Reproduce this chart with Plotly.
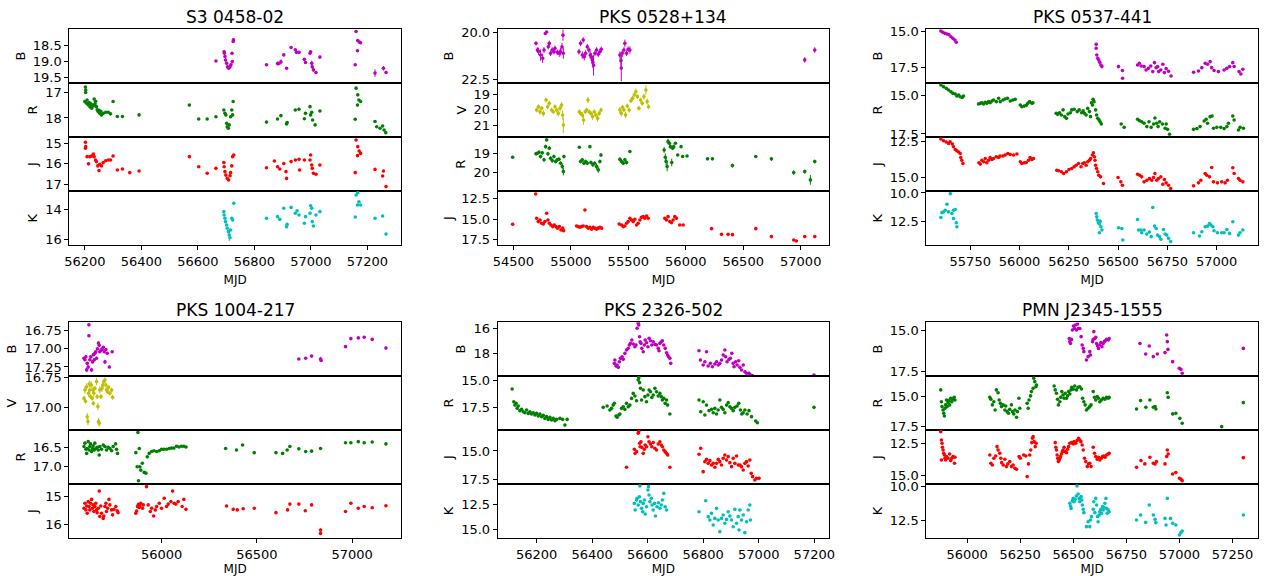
import plotly.graph_objects as go

# ---------------- data: (MJD, magnitude[, error]) ----------------
# S3 0458-02
P1_B = [(56664,18.97,0.03),(56693,18.68,0.04),(56694,18.73,0.04),(56696,18.83,0.05),(56698,18.94,0.05),(56702,19.04,0.05),
        (56705,19.15,0.05),(56709,19.2,0.05),(56714,19.15,0.05),(56717,19.09,0.04),(56721,18.73,0.04),(56722,18.99,0.05),
        (56725,18.36,0.05),(56726,18.31,0.05),(56843,19.09,0.04),(56882,19.05,0.06),(56886,19.05,0.06),(56894,19.0,0.08),
        (56904,18.78,0.04),(56914,19.2,0.04),(56930,18.55,0.03),(56945,18.62,0.04),(56949,18.7,0.03),(56958,18.7,0.03),
        (56977,18.92,0.03),(56981,19.02,0.03),(56997,18.73,0.05),(56999,18.68,0.05),(57003,19.04,0.08),(57005,19.15,0.08),
        (57009,19.25,0.05),(57018,19.33,0.03),(57032,18.85,0.05),(57157,19.09,0.03),(57165,18.65,0.03),(57160,18.05,0.03),
        (57166,18.33,0.03),(57171,18.38,0.03),(57176,18.4,0.03),(57227,19.35,0.12),(57257,19.2,0.07),(57266,19.33,0.05)]
P1_R = [(56202,16.8),(56203,16.91),(56203,17.01),(56200,17.36),(56206,17.43),(56208,17.3),(56212,17.49),(56215,17.4),
        (56218,17.56),(56221,17.45),(56224,17.62),(56227,17.5),(56230,17.53),(56233,17.26),(56236,17.45),(56238,17.35),
        (56241,17.56),(56244,17.68),(56247,17.75),(56250,17.7),(56253,17.82),(56256,17.74),(56259,17.88),(56265,17.82),
        (56274,17.78),(56283,17.78),(56291,17.84),(56300,17.36),(56315,17.94),(56333,17.94),(56392,17.88),(56570,17.5),
        (56603,18.04),(56633,18.04),(56664,17.95),(56692,17.69),(56696,17.82),(56699,17.88),(56702,18.21),(56704,18.34),
        (56708,18.4),(56711,18.27),(56716,17.95),(56720,17.69),(56723,17.88),(56725,17.36),(56843,18.16),(56882,18.04),
        (56894,17.91),(56914,18.23),(56916,18.18),(56945,17.69),(56958,17.66),(56977,18.03),(56981,17.82),(56997,17.56),
        (56999,17.88),(57003,17.78),(57006,18.08),(57015,18.27),(57032,17.73),(57157,18.05),(57165,17.5),(57160,16.84),
        (57166,17.1),(57170,17.3),(57176,17.36),(57227,18.14),(57233,18.34),(57245,18.4),(57254,18.31),(57259,18.47),
        (57265,18.57)]
P1_J = [(56202,14.95),(56203,15.16),(56202,15.24),(56208,15.65),(56213,16.0),(56218,15.65),(56224,15.62),(56230,15.52),
        (56233,15.65),(56238,15.81),(56241,15.89),(56246,16.1),(56250,16.33),(56253,16.02),(56259,16.1),(56265,15.94),
        (56274,15.85),(56283,15.81),(56291,15.81),(56300,15.62),(56315,16.3),(56333,16.25),(56359,16.43),(56392,16.35),
        (56570,15.65),(56603,16.14),(56633,16.46),(56664,16.22),(56692,15.94),(56693,16.14),(56696,16.38),(56699,16.55),
        (56704,16.71),(56709,16.79),(56714,16.58),(56716,16.43),(56720,16.1),(56723,15.65),(56727,15.57),(56843,16.19),
        (56871,15.86),(56882,16.14),(56890,16.25),(56904,15.98),(56912,16.38),(56914,16.71),(56930,15.89),(56945,15.81),
        (56958,15.78),(56960,16.3),(56977,15.81),(56997,15.81),(56999,15.57),(57003,16.06),(57005,16.22),(57009,16.46),
        (57018,16.51),(57032,16.06),(57157,16.43),(57165,15.6),(57160,14.84),(57166,15.16),(57171,15.37),(57176,15.49),
        (57227,16.27),(57254,16.59),(57257,16.35),(57266,17.11)]
P1_K = [(56692,14.15),(56693,14.37),(56696,14.59),(56698,14.81),(56702,15.03),(56704,15.25),(56708,15.47),(56711,15.69,0.4),
        (56714,15.87),(56716,15.36),(56720,14.59),(56723,14.7),(56727,13.6),(56843,14.59),(56882,14.48),(56890,14.66),
        (56904,13.93),(56914,15.14),(56916,14.98),(56930,13.87),(56945,14.26),(56951,14.1),(56958,14.37),(56977,14.92),
        (56981,14.48),(56997,14.26),(56999,13.76),(57003,13.93),(57005,14.81),(57009,15.1),(57018,14.37),(57032,14.15),
        (57157,14.5),(57165,13.71),(57160,13.05),(57166,12.9),(57170,13.5),(57176,13.71),(57227,14.59),(57254,14.44),
        (57266,15.63)]

# PKS 0528+134
P2_B = [(54697,20.57,0.1),(54709,20.93,0.15),(54720,21.0,0.2),(54737,21.2,0.3),(54755,21.37,0.25),(54767,20.93,0.15),
        (54778,20.04,0.05),(54790,19.96,0.05),(54804,20.75,0.15),(54813,20.57,0.15),(54824,21.1,0.15),(54838,20.93,0.15),
        (54853,21.02,0.15),(54862,20.84,0.15),(54882,21.05,0.15),(54899,21.1,0.2),(54911,21.02,0.2),(54923,20.75,0.2),
        (54932,20.13,0.3),(54935,21.1,0.3),(55071,21.02,0.15),(55085,20.57,0.15),(55100,21.2,0.2),(55108,20.39,0.15),
        (55117,21.29,0.2),(55129,21.1,0.15),(55143,20.75,0.15),(55158,20.93,0.15),(55169,21.2,0.2),(55178,21.29,0.2),
        (55187,21.46,0.2),(55192,21.6,0.3),(55198,21.75,0.55),(55210,21.1,0.15),(55224,20.93,0.15),(55239,21.16,0.15),
        (55253,21.02,0.15),(55265,20.89,0.15),(55427,21.2,0.2),(55436,21.5,0.3),(55439,21.9,0.7),(55447,21.1,0.2),
        (55462,20.93,0.15),(55470,20.57,0.2),(55485,21.1,0.15),(55499,20.89,0.15),(55514,20.93,0.2),(57035,21.46,0.15),
        (57122,20.93,0.15)]
P2_V = [(54703,20.03,0.15),(54718,19.82,0.15),(54732,20.14,0.2),(54747,19.92,0.15),(54761,20.25,0.2),(54784,19.39,0.15),
        (54798,19.82,0.15),(54813,19.6,0.15),(54833,20.03,0.15),(54848,20.14,0.15),(54862,19.82,0.15),(54877,20.03,0.15),
        (54891,20.25,0.2),(54906,19.92,0.2),(54920,19.71,0.2),(54929,20.35,0.3),(54935,21.0,0.5),(55074,20.14,0.15),
        (55085,20.25,0.15),(55100,20.35,0.2),(55111,20.68,0.3),(55126,20.14,0.15),(55137,20.03,0.15),(55149,19.39,0.2),
        (55160,20.14,0.15),(55175,20.25,0.15),(55189,20.46,0.2),(55204,20.14,0.15),(55218,20.35,0.15),(55233,20.57,0.2),
        (55247,20.25,0.15),(55262,20.03,0.15),(55427,20.03,0.2),(55439,20.25,0.2),(55450,19.86,0.15),(55462,20.03,0.15),
        (55476,20.35,0.2),(55491,19.77,0.15),(55508,20.03,0.15),(55523,19.43,0.15),(55537,19.28,0.15),(55552,19.06,0.15),
        (55566,18.85,0.2),(55580,19.17,0.15),(55592,19.92,0.15),(55607,19.39,0.15),(55621,19.6,0.15),(55636,19.17,0.2),
        (55653,18.74,0.3),(55664,19.49,0.2),(55676,19.82,0.15)]
P2_R = [(54494,19.21,0.03),(54697,19.03,0.08),(54709,19.0,0.08),(54723,18.95,0.1),(54737,19.17,0.1),(54752,18.98,0.08),
        (54767,19.34,0.1),(54781,18.66,0.1),(54790,18.31,0.05),(54801,19.03,0.1),(54813,18.74,0.1),(54824,19.26,0.1),
        (54838,19.38,0.1),(54853,19.17,0.1),(54868,19.43,0.1),(54882,19.34,0.1),(54897,19.31,0.1),(54911,19.52,0.1),
        (54926,19.69,0.15),(54935,19.95,0.2),(54940,19.17,0.1),(55074,18.69,0.03),(55085,19.43,0.1),(55100,19.34,0.1),
        (55114,19.52,0.1),(55129,19.43,0.1),(55143,19.52,0.1),(55166,18.66,0.03),(55175,19.48,0.1),(55192,19.6,0.1),
        (55207,19.52,0.1),(55224,19.69,0.15),(55239,19.86,0.15),(55253,19.43,0.1),(55262,19.09,0.1),(55427,19.31,0.1),
        (55441,19.43,0.1),(55456,19.52,0.1),(55470,19.34,0.1),(55485,19.48,0.1),(55514,18.91,0.05),(55812,18.83,0.15),
        (55822,19.21,0.2),(55829,19.43,0.2),(55838,19.69,0.25),(55846,18.4,0.15),(55858,18.48,0.1),(55866,18.66,0.1),
        (55878,19.48,0.2),(55886,18.74,0.1),(55895,18.66,0.1),(55910,18.48,0.05),(55930,19.09,0.05),(55959,18.66,0.05),
        (55973,19.17,0.05),(56011,19.14,0.05),(56189,19.29,0.05),(56232,19.29,0.05),(56406,19.64,0.1),(56609,19.17,0.05),
        (56745,19.29,0.1),(56939,20.0,0.12),(57035,19.95,0.1),(57084,20.38,0.25),(57122,19.43,0.1)]
P2_J = [(54494,15.63),(54694,11.93),(54703,14.9),(54717,15.3),(54732,15.1),(54746,15.5),(54761,15.58),(54775,15.3),
        (54790,14.29),(54801,15.1),(54813,15.5),(54827,15.71),(54842,15.91),(54856,15.71),(54871,15.91),(54885,16.1),
        (54900,15.91),(54914,16.32),(54929,16.1),(54937,16.4),(55050,15.83),(55064,15.91),(55079,15.99),(55093,15.91),
        (55108,15.83),(55123,13.88),(55137,15.91),(55152,16.1),(55166,15.99),(55181,16.24),(55195,15.99),(55210,16.1),
        (55224,16.24),(55239,16.1),(55253,15.99),(55268,16.1),(55421,15.59),(55441,15.71),(55456,15.91),(55470,15.83),
        (55485,15.5),(55499,15.3),(55514,14.9),(55528,15.1),(55543,15.3),(55557,15.02),(55572,15.71),(55586,15.5),
        (55601,15.1),(55615,14.78),(55630,14.7),(55644,14.9),(55659,14.61),(55673,14.9),(55818,14.9),(55832,15.1),
        (55846,14.7),(55861,15.3),(55876,15.42),(55890,15.1),(55905,14.7),(55919,14.9),(55948,15.71),(55977,15.71),
        (56224,16.16),(56311,16.85),(56368,16.85),(56406,16.89),(56609,16.16),(56745,17.13),(56939,17.54),(56962,17.66),
        (57035,17.13),(57122,17.13)]

# PKS 0537-441
P3_B = [(55601,15.0),(55611,15.09),(55622,15.16),(55632,15.2),(55642,15.25),(55652,15.39),(55662,15.5),(55672,15.61),
        (55679,15.77),(56389,15.91),(56389,16.18),(56392,16.64),(56397,16.86),(56402,16.98),(56407,17.14),(56413,17.32),
        (56418,17.43),(56502,17.43),(56522,17.7),(56523,18.23),(56599,17.32),(56608,17.2),(56617,17.39),(56632,17.43),
        (56642,17.66),(56654,17.55),(56666,17.39),(56676,17.77),(56685,17.16),(56693,17.5),(56701,17.43),(56706,17.77),
        (56717,17.66),(56727,17.27),(56735,17.84),(56744,17.57),(56756,17.75),(56769,18.07),(56883,17.82),(56908,17.73),
        (56925,17.5),(56942,17.2),(56954,17.27),(56967,17.09),(56975,17.5),(56987,17.7),(57009,17.77),(57038,17.66),
        (57052,17.55),(57066,17.43),(57082,17.16),(57089,17.43),(57114,17.77),(57123,17.93),(57133,17.61)]
P3_R = [(55601,14.3),(55614,14.41),(55628,14.52),(55640,14.63),(55652,14.74),(55662,14.85),(55674,14.89),(55682,15.02),
        (55691,14.95),(55699,15.07),(55709,15.11),(55716,15.02),(55792,15.54),(55801,15.5),(55809,15.46),(55818,15.54),
        (55826,15.43),(55834,15.5),(55843,15.39),(55851,15.46),(55860,15.35),(55868,15.28),(55882,15.39),(55894,15.17),
        (55902,15.39),(55916,15.28),(55927,15.22),(55939,15.17),(55953,15.35),(55966,15.28),(55978,15.24),(56004,15.61),
        (56012,15.72),(56024,15.68),(56034,15.63),(56042,15.5),(56051,15.39),(56063,15.5),(56068,15.46),(56186,16.15),
        (56193,16.22),(56203,16.11),(56212,16.26),(56221,15.93),(56229,16.37),(56238,16.48),(56246,16.2),(56258,16.11),
        (56265,15.93),(56277,15.89),(56293,16.04),(56303,15.93),(56315,16.11),(56323,15.98),(56329,16.15),(56338,16.26),
        (56346,15.83),(56355,16.04),(56360,16.37),(56365,15.46),(56370,15.61),(56373,15.24),(56378,15.39),(56386,15.93),
        (56391,16.26),(56397,16.48),(56404,16.59),(56409,16.7),(56415,16.85),(56516,16.85),(56531,17.07),(56599,16.54),
        (56608,16.63),(56620,16.7),(56632,16.8),(56646,17.02),(56657,16.7),(56668,17.07),(56680,16.85),(56687,16.46),
        (56696,16.8),(56703,17.02),(56711,16.7),(56725,16.85),(56739,17.13),(56744,16.85),(56751,17.2),(56761,17.52),
        (56883,17.2),(56900,17.15),(56916,17.02),(56937,16.65),(56947,16.54),(56954,16.8),(56967,16.37),(56977,16.33),
        (56984,17.13),(57001,17.07),(57021,17.07),(57038,17.15),(57052,17.02),(57060,16.8),(57082,16.33),(57089,16.59),
        (57111,17.24),(57119,17.07),(57136,17.13)]
P3_J = [(55601,12.31),(55614,12.43),(55628,12.52),(55640,12.62),(55648,12.5),(55659,12.66),(55665,12.85),(55674,13.04),
        (55682,13.13),(55691,13.22),(55699,13.32),(55702,13.6),(55707,13.79),(55713,14.02),(55794,13.97),(55801,14.06),
        (55809,13.79),(55818,13.9),(55826,13.67),(55834,13.97),(55843,13.79),(55851,13.6),(55860,13.74),(55868,13.67),
        (55882,13.55),(55894,13.6),(55901,13.5),(55916,13.5),(55927,13.43),(55941,13.32),(55953,13.39),(55970,13.43),
        (55987,13.36),(56004,13.9),(56012,14.02),(56024,13.97),(56034,13.95),(56046,13.79),(56054,13.6),(56063,13.74),
        (56071,13.67),(56189,14.49),(56198,14.53),(56212,14.6),(56224,14.72),(56238,14.6),(56251,14.44),(56265,14.37),
        (56277,14.25),(56287,14.14),(56299,14.02),(56312,14.25),(56321,14.02),(56329,13.97),(56338,14.14),(56346,13.9),
        (56355,13.79),(56361,13.67),(56370,13.43),(56375,13.27),(56380,13.55),(56383,13.79),(56386,14.14),(56391,14.37),
        (56397,14.6),(56402,14.84),(56411,14.95),(56426,15.42),(56500,15.0),(56514,15.3),(56522,15.54),(56599,14.77),
        (56610,14.84),(56620,14.95),(56632,15.3),(56646,15.19),(56659,15.07),(56671,15.19),(56680,15.0),(56687,14.72),
        (56696,15.19),(56705,15.07),(56717,14.95),(56727,15.47),(56735,15.14),(56744,15.37),(56756,15.54),(56767,15.77),
        (56883,15.58),(56908,15.37),(56920,15.19),(56942,14.72),(56950,14.84),(56964,14.95),(56975,14.3),(56984,15.3),
        (57004,15.37),(57026,15.3),(57043,15.37),(57055,15.19),(57082,14.32),(57089,14.72),(57111,15.07),(57119,15.19),
        (57133,15.3)]
P3_K = [(55601,12.18),(55606,11.76),(55615,11.68),(55623,11.53),(55632,11.0),(55640,11.68),(55649,10.06),(55657,11.82),
        (55665,11.53),(55674,11.47),(55665,12.26),(55679,12.65),(55682,13.0),(56389,11.82),(56392,12.12),(56395,12.41),
        (56400,12.65),(56405,12.76),(56409,12.5),(56413,13.0),(56418,13.29),(56405,13.53),(56502,13.09),(56519,13.15),
        (56524,14.18),(56599,12.35),(56604,13.29),(56616,13.29),(56620,13.53),(56632,13.29),(56646,13.65),(56659,13.47),
        (56668,13.88),(56676,11.29),(56685,12.94),(56693,13.15),(56700,13.74),(56710,13.88),(56717,14.12),(56730,13.24),
        (56739,13.65),(56747,13.74),(56756,14.03),(56767,14.32),(56883,13.53),(56913,13.82),(56925,13.44),(56942,13.0),
        (56954,12.94),(56964,12.71),(56971,12.85),(56981,13.0),(56987,13.35),(57004,13.53),(57026,13.53),(57038,13.53),
        (57052,13.24),(57066,13.59),(57082,12.56),(57111,13.74),(57119,13.53),(57133,13.29)]

# PKS 1004-217
P4_B = [(55593,17.13,0.02),(55598,17.15,0.02),(55603,17.11,0.02),(55607,17.29,0.03),(55610,17.2,0.02),(55615,17.25,0.03),
        (55619,16.67,0.01),(55619,16.82,0.02),(55624,17.15,0.02),(55629,17.11,0.02),(55633,17.29,0.03),(55638,17.18,0.02),
        (55643,17.08,0.02),(55647,17.15,0.02),(55650,17.06,0.02),(55655,17.04,0.02),(55659,17.13,0.02),(55664,17.0,0.02),
        (55669,16.92,0.02),(55673,16.95,0.02),(55676,17.04,0.02),(55682,17.02,0.02),(55687,17.01,0.02),(55694,16.98,0.02),
        (55699,17.04,0.02),(55703,17.18,0.03),(55708,17.01,0.02),(55715,17.06,0.02),(55726,17.25,0.02),(55741,17.04,0.01),
        (56720,17.14,0.01),(56756,17.13,0.01),(56787,17.1,0.01),(56834,17.14,0.03),(56837,17.16,0.02),(56965,16.97,0.01),
        (56993,16.86,0.01),(57032,16.85,0.01),(57063,16.84,0.01),(57105,16.87,0.01),(57177,16.99,0.01)]
P4_V = [(55593,16.925,0.02),(55598,16.856,0.03),(55601,16.95,0.02),(55607,16.828,0.03),(55610,17.078,0.03),(55614,17.119,0.03),
        (55617,16.883,0.03),(55621,16.806,0.03),(55624,16.856,0.02),(55628,16.911,0.02),(55631,16.814,0.03),(55636,16.925,0.02),
        (55640,16.856,0.03),(55642,16.967,0.02),(55645,16.883,0.03),(55650,16.842,0.02),(55659,16.786,0.03),(55662,16.911,0.02),
        (55666,16.994,0.03),(55669,17.119,0.03),(55673,17.133,0.03),(55676,16.856,0.03),(55682,16.911,0.02),(55687,16.842,0.03),
        (55692,16.814,0.03),(55697,16.786,0.02),(55703,16.772,0.02),(55708,16.814,0.02),(55711,16.856,0.02),(55717,16.87,0.02),
        (55722,16.834,0.02),(55729,16.883,0.02),(55738,16.856,0.02),(55743,16.917,0.02)]
P4_R = [(55593,16.48),(55598,16.39),(55603,16.55),(55607,16.66),(55610,16.53),(55615,16.35),(55620,16.57),(55624,16.48),
        (55627,16.41),(55633,16.61),(55638,16.53),(55641,16.46),(55647,16.57),(55650,16.39),(55655,16.53),(55662,16.5),
        (55668,16.57),(55673,16.7),(55676,16.48),(55685,16.55),(55694,16.44),(55703,16.48),(55711,16.57),(55720,16.5),
        (55729,16.53),(55738,16.59),(55746,16.48),(55759,16.41),(55764,16.55),(55769,16.66),(55865,16.64),(55872,17.01),
        (55876,16.11),(55879,17.38),(55883,16.53),(55886,17.01),(55891,17.1),(55899,16.92),(55909,17.16),(55918,17.18),
        (55925,16.75),(55935,16.66),(55948,16.61),(55960,16.59),(55974,16.61),(55988,16.59),(56000,16.55),(56012,16.55),
        (56026,16.55),(56040,16.53),(56052,16.52),(56065,16.52),(56079,16.47),(56091,16.49),(56105,16.47),(56117,16.47),
        (56128,16.49),(56336,16.53),(56393,16.57),(56425,16.44),(56486,16.64),(56600,16.64),(56635,16.66),(56659,16.57),
        (56673,16.48),(56720,16.54),(56756,16.61),(56787,16.6),(56834,16.53),(56965,16.38),(56993,16.38),(57032,16.35),
        (57063,16.38),(57105,16.36),(57177,16.41)]
P4_J = [(55593,15.43),(55598,15.25),(55603,15.49),(55607,15.35),(55610,15.61),(55615,15.19),(55620,15.37),(55624,15.49),
        (55627,15.25),(55633,15.11),(55638,15.43),(55641,15.31),(55645,15.55),(55650,15.37),(55655,15.25),(55659,15.49),
        (55662,15.59),(55668,15.43),(55673,14.81),(55676,15.73),(55681,15.35),(55685,15.61),(55694,15.8),(55697,15.71),
        (55703,15.37),(55708,15.25),(55711,15.55),(55717,15.43),(55724,15.11),(55729,15.31),(55738,15.49),(55743,15.67),
        (55750,15.47),(55760,15.37),(55767,15.52),(55772,15.59),(55865,15.61),(55869,15.53),(55874,15.37),(55879,15.29),
        (55883,15.4),(55886,15.35),(55891,15.25),(55900,15.43),(55904,15.31),(55921,14.65),(55930,15.31),(55941,15.55),
        (55948,15.43),(55958,15.71),(55967,15.49),(55974,15.37),(55988,15.25),(56000,15.43),(56014,15.07),(56026,15.37),
        (56035,15.28),(56049,15.19),(56058,14.81),(56066,15.25),(56075,15.28),(56087,15.19),(56108,15.37),(56117,15.11),
        (56128,15.47),(56341,15.35),(56376,15.47),(56397,15.49),(56428,15.45),(56486,15.43),(56600,15.59),(56661,15.49),
        (56673,15.28),(56720,15.28),(56754,15.52),(56787,15.31),(56834,16.22,0.05),(56834,16.34,0.05),(56965,15.55),
        (56993,15.25),(57032,15.43),(57063,15.37),(57105,15.41),(57177,15.34)]

# PKS 2326-502
P5_B = [(56480,18.8),(56482,18.53),(56486,19.01),(56490,18.93),(56494,19.12),(56498,18.67),(56502,18.4),(56508,18.27),
        (56512,18.48),(56518,18.0),(56524,17.73),(56530,17.6),(56534,17.33),(56538,17.2),(56543,16.93),(56548,17.25),
        (56554,17.47),(56558,17.33),(56562,16.0),(56566,15.6),(56568,15.73),(56571,16.67),(56573,17.07),(56576,17.2),
        (56579,17.6),(56584,17.87),(56588,17.33),(56591,16.93),(56596,17.15),(56601,17.47),(56605,16.8),(56610,16.99),
        (56615,17.33),(56620,17.07),(56626,17.28),(56632,17.33),(56638,17.6),(56641,17.79),(56644,17.2),(56649,17.07),
        (56653,16.99),(56658,17.33),(56663,17.6),(56668,17.95),(56672,18.13),(56675,18.27),(56680,18.4),(56683,18.8),
        (56785,17.79),(56790,18.53),(56800,18.93),(56806,18.67),(56812,17.87),(56818,19.01),(56826,18.8),(56833,19.07),
        (56842,18.85),(56848,18.67),(56854,18.93),(56860,18.8),(56866,18.53),(56872,18.13),(56878,17.73),(56881,18.27),
        (56886,18.67),(56893,18.48),(56898,18.4),(56903,18.0),(56908,18.8),(56911,19.07),(56917,18.67),(56922,18.93),
        (56928,18.59),(56932,19.12),(56938,19.33),(56944,18.93),(56950,19.47),(56956,19.6),(56965,19.6),(56971,19.73),
        (56977,19.78),(57199,19.73)]
P5_R = [(56112,15.82),(56118,16.98),(56122,17.29),(56126,17.13),(56130,17.59),(56134,17.38),(56140,17.8),(56146,17.68),
        (56152,17.9),(56158,17.99),(56164,17.74),(56170,18.05),(56176,17.9),(56182,18.11),(56188,17.99),(56194,18.2),
        (56200,18.05),(56206,18.29),(56212,18.11),(56218,18.35),(56224,18.23),(56230,18.51),(56236,18.35),(56242,18.6),
        (56248,18.41),(56254,18.66),(56260,18.51),(56266,18.72),(56272,18.6),(56284,18.51),(56294,18.6),(56302,19.12),
        (56310,18.6),(56440,17.5),(56454,17.38),(56464,17.74),(56470,17.59),(56476,17.29),(56480,17.13),(56486,18.29),
        (56490,18.41),(56496,18.2),(56500,18.11),(56506,17.59),(56512,17.44),(56518,17.68),(56524,17.13),(56530,17.44),
        (56536,17.29),(56542,16.68),(56548,16.22),(56554,16.46),(56560,16.89),(56566,15.0),(56568,14.76),(56571,15.24),
        (56574,15.76),(56578,16.83),(56584,15.91),(56590,16.52),(56596,16.98),(56601,16.37),(56605,15.91),(56610,16.07),
        (56615,16.59),(56620,16.37),(56626,15.76),(56632,16.07),(56638,16.46),(56644,16.22),(56649,16.52),(56653,16.83),
        (56658,16.68),(56663,17.13),(56668,16.83),(56672,17.29),(56680,18.11),(56785,16.83),(56791,17.9),(56800,16.98),
        (56806,18.2),(56812,17.29),(56821,17.8),(56830,17.68),(56836,17.99),(56842,17.59),(56848,18.11),(56854,17.74),
        (56860,16.83),(56866,17.5),(56872,17.68),(56878,17.99),(56884,17.29),(56890,17.07),(56896,17.44),(56902,17.59),
        (56908,17.8),(56914,17.5),(56922,17.38),(56928,17.13),(56934,17.74),(56939,18.11),(56944,17.99),(56950,17.74),
        (56958,18.11),(56965,17.8),(56974,18.35),(56989,18.75),(56995,18.9),(57199,17.5)]
P5_J = [(56524,16.44),(56552,14.85),(56555,15.21),(56560,15.06),(56566,13.44),(56568,13.29),(56571,14.32),(56573,14.62),
        (56576,14.18),(56579,14.68),(56584,15.21),(56588,14.85),(56591,14.47),(56596,14.62),(56601,13.74),(56605,14.18),
        (56610,14.38),(56615,14.62),(56620,14.26),(56626,14.76),(56632,14.91),(56638,14.38),(56644,14.18),(56649,14.47),
        (56653,14.62),(56658,14.91),(56663,15.06),(56668,15.21),(56672,15.35),(56680,16.44),(56785,15.29),(56791,14.76),
        (56800,16.82),(56806,15.94),(56812,15.74),(56818,16.09),(56824,15.85),(56830,16.24),(56836,16.09),(56842,16.44),
        (56848,16.09),(56854,15.74),(56860,15.94),(56866,16.24),(56872,15.65),(56878,15.35),(56884,15.79),(56890,15.5),
        (56896,16.03),(56902,16.38),(56908,15.65),(56914,16.09),(56920,15.44),(56926,16.24),(56932,16.24),(56938,16.38),
        (56944,16.68),(56950,16.09),(56956,15.94),(56962,16.32),(56968,15.79),(56973,16.97),(56978,17.26),(56986,17.56),
        (56992,17.41),(57001,17.41)]
P5_K = [(56552,12.44),(56555,13.08),(56560,12.11),(56562,11.95),(56566,12.6),(56570,11.79),(56572,10.75),(56574,12.27),
        (56578,12.92),(56582,13.25),(56584,12.44),(56588,12.11),(56591,13.47),(56596,12.76),(56601,11.14),(56603,10.81),
        (56605,11.62),(56608,12.27),(56613,11.95),(56616,12.6),(56620,13.08),(56625,12.44),(56628,13.67),(56634,12.76),
        (56639,12.37),(56644,12.92),(56649,12.6),(56653,12.11),(56658,11.46),(56663,12.76),(56668,13.08),(56785,13.25),
        (56809,12.18),(56818,13.73),(56824,14.06),(56830,13.41),(56836,14.55),(56842,13.9),(56848,12.92),(56854,14.06),
        (56860,15.19),(56866,13.9),(56872,13.57),(56878,14.38),(56884,14.0),(56890,13.25),(56896,13.67),(56902,14.06),
        (56908,14.71),(56914,13.02),(56920,14.38),(56926,13.73),(56932,13.08),(56938,14.06),(56944,13.57),(56950,15.29),
        (56956,14.22),(56962,13.08),(56968,12.6),(56970,14.06),(56929,15.03)]

# PMN J2345-1555
P6_B = [(56481,15.48),(56484,15.68),(56487,15.79),(56492,15.54),(56496,14.96),(56501,14.71),(56506,14.86),(56511,14.65),
        (56515,14.96),(56520,14.59),(56525,14.86),(56531,14.86),(56537,15.37),(56542,15.89),(56547,16.1),(56550,16.3),
        (56562,16.82),(56570,16.61),(56578,16.3),(56581,16.51),(56591,15.68),(56594,15.54),(56597,15.06),(56602,15.48),
        (56606,15.41),(56610,15.79),(56614,15.95),(56619,16.1),(56625,15.89),(56630,15.74),(56635,15.99),(56641,15.79),
        (56646,15.68),(56650,15.62),(56657,15.54),(56665,15.58),(56669,15.48),(56814,15.79),(56841,16.45),(56858,15.95),
        (56877,16.61),(56896,16.45),(56932,16.36),(56940,15.27),(56943,15.68),(56946,16.16),(56968,16.92),(56999,17.33),
        (57007,17.4),(57013,17.64),(57301,16.1)]
P6_R = [(55876,14.44),(55879,15.42),(55882,15.83),(55887,16.11),(55890,16.39),(55893,16.61),(55896,15.97),(55899,15.69),
        (55903,15.28),(55906,15.83),(55910,15.5),(55915,15.33),(55918,15.69),(55923,15.14),(55928,15.42),(55934,15.22),
        (55939,15.06),(55943,15.28),(56107,15.06),(56112,15.22),(56119,15.69),(56126,15.42),(56132,16.11),(56138,14.44),
        (56146,14.67),(56151,15.28),(56157,15.56),(56162,15.83),(56170,15.69),(56178,16.11),(56182,15.78),(56189,16.25),
        (56195,16.39),(56201,16.06),(56209,15.69),(56214,16.25),(56220,16.44),(56226,16.11),(56233,16.72),(56237,16.25),
        (56244,15.14),(56248,15.97),(56283,15.56),(56288,15.97),(56292,15.28),(56299,14.94),(56303,14.58),(56311,14.31),
        (56314,13.47),(56319,13.75),(56324,14.17),(56327,14.03),(56410,14.11),(56415,14.44),(56421,14.72),(56426,15.22),
        (56430,15.69),(56437,15.42),(56441,15.06),(56446,14.58),(56452,14.86),(56457,15.14),(56462,14.72),(56468,15.14),
        (56473,14.94),(56478,14.58),(56484,14.78),(56489,14.44),(56493,14.22),(56500,14.39),(56507,14.11),(56515,14.44),
        (56523,14.22),(56531,14.17),(56539,14.36),(56544,15.14),(56550,15.42),(56556,15.69),(56562,16.11),(56570,15.97),
        (56578,15.83),(56584,15.69),(56594,14.58),(56600,15.06),(56606,15.28),(56613,15.0),(56619,15.14),(56625,15.42),
        (56633,15.28),(56641,15.14),(56649,15.22),(56657,15.06),(56665,15.14),(56669,15.06),(56798,16.03),(56817,15.33),
        (56842,15.89),(56861,15.28),(56877,15.89),(56885,15.83),(56889,16.03),(56943,14.67),(56947,15.06),(56968,16.44),
        (56983,16.39),(57002,16.81),(57013,17.22),(57199,17.5),(57301,15.5)]
P6_J = [(55876,11.59),(55879,12.24),(55882,12.5),(55884,12.81),(55887,13.02),(55890,13.28),(55893,13.41),(55896,13.67),
        (55899,13.8),(55879,13.8),(55903,13.54),(55910,13.67),(55918,13.33),(55923,13.85),(55928,13.67),(55934,13.54),
        (55941,14.06),(55943,13.59),(56107,13.41),(56112,14.06),(56119,14.19),(56126,13.67),(56135,13.49),(56141,12.76),
        (56146,13.02),(56154,13.28),(56159,13.67),(56163,14.01),(56170,14.19),(56178,13.75),(56185,14.32),(56192,14.11),
        (56201,13.93),(56209,14.32),(56217,14.19),(56225,14.45),(56233,14.53),(56245,13.54),(56251,13.67),(56267,13.41),
        (56277,13.49),(56283,15.1),(56289,14.11),(56295,13.41),(56300,13.02),(56305,12.45),(56308,12.11),(56311,11.98),
        (56316,12.37),(56321,12.76),(56325,12.5),(56415,12.45),(56418,12.81),(56421,13.02),(56424,13.41),(56427,13.67),
        (56430,13.93),(56434,13.8),(56437,13.67),(56440,13.54),(56445,13.33),(56449,13.15),(56452,13.02),(56457,12.81),
        (56462,13.15),(56468,13.23),(56473,12.97),(56478,12.76),(56484,12.5),(56492,12.45),(56500,12.55),(56504,12.37),
        (56512,12.5),(56518,12.29),(56525,12.11),(56531,12.24),(56536,12.37),(56542,12.63),(56547,13.02),(56553,13.67),
        (56559,13.93),(56566,14.32),(56572,14.11),(56578,14.06),(56584,14.32),(56594,12.81),(56600,13.28),(56606,13.54),
        (56613,13.75),(56619,13.59),(56625,13.8),(56632,13.67),(56638,13.54),(56644,13.49),(56650,13.59),(56657,13.41),
        (56665,13.33),(56669,13.28),(56798,14.38),(56819,13.85),(56837,14.11),(56861,13.59),(56877,14.06),(56885,14.11),
        (56892,13.93),(56932,14.11),(56940,13.54),(56943,13.02),(56947,13.33),(56968,14.9),(56983,14.79),(57000,15.23),
        (57007,15.3),(57013,15.42),(57301,13.62)]
P6_K = [(56484,11.25),(56487,11.45),(56490,11.63),(56496,11.05),(56500,10.88),(56504,11.13),(56509,10.95),(56515,10.7),
        (56518,9.95),(56523,10.55),(56528,10.88),(56531,11.13),(56537,10.75),(56540,11.0),(56543,11.38),(56547,11.7),
        (56550,11.95),(56562,13.0),(56570,12.63),(56578,13.0),(56581,12.5),(56586,12.25),(56594,11.7),(56597,11.13),
        (56602,11.95),(56606,10.88),(56610,11.38),(56614,12.25),(56617,12.63),(56622,12.13),(56625,11.88),(56630,11.7),
        (56633,12.0),(56638,11.5),(56641,11.75),(56644,11.55),(56649,11.25),(56654,10.88),(56657,11.63),(56660,12.0),
        (56665,11.75),(56669,11.88),(56798,12.5),(56817,12.13),(56841,12.68),(56858,11.38),(56877,12.13),(56885,12.45),
        (56889,12.7),(56932,12.38),(56937,12.88),(56943,10.88),(56958,12.38),(56968,12.75),(56983,12.88),(57000,13.63),
        (57007,13.45),(57013,13.33),(57301,12.13)]

# ---------------- axes: ticks & ranges ----------------
TITLES = ["S3 0458-02", "PKS 0528+134", "PKS 0537-441", "PKS 1004-217", "PKS 2326-502", "PMN J2345-1555"]
BANDS = [["B", "R", "J", "K"], ["B", "V", "R", "J"], ["B", "R", "J", "K"],
         ["B", "V", "R", "J"], ["B", "R", "J", "K"], ["B", "R", "J", "K"]]
SERIES = [[P1_B, P1_R, P1_J, P1_K], [P2_B, P2_V, P2_R, P2_J], [P3_B, P3_R, P3_J, P3_K],
          [P4_B, P4_V, P4_R, P4_J], [P5_B, P5_R, P5_J, P5_K], [P6_B, P6_R, P6_J, P6_K]]
XTICKS = [[56200, 56400, 56600, 56800, 57000, 57200],
          [54500, 55000, 55500, 56000, 56500, 57000],
          [55750, 56000, 56250, 56500, 56750, 57000],
          [56000, 56500, 57000],
          [56200, 56400, 56600, 56800, 57000, 57200],
          [56000, 56250, 56500, 56750, 57000, 57250]]
XRANGES = [[56145, 57319], [54364, 57246], [55527, 57210], [55516, 57256], [56060, 57253], [55808, 57370]]
YTICKS = [[["18.5", "19.0", "19.5"], ["17", "18"], ["15", "16", "17"], ["14", "16"]],
          [["20.0", "22.5"], ["19", "20", "21"], ["19", "20"], ["12.5", "15.0", "17.5"]],
          [["15.0", "17.5"], ["15.0", "17.5"], ["12.5", "15.0"], ["10.0", "12.5"]],
          [["16.75", "17.00", "17.25"], ["16.75", "17.00"], ["16.5", "17.0"], ["15", "16"]],
          [["16", "18"], ["15.0", "17.5"], ["15.0", "17.5"], ["12.5", "15.0"]],
          [["15.0", "17.5"], ["15.0", "17.5"], ["12.5", "15.0"], ["10.0", "12.5"]]]
YRANGES = [[[19.66, 17.97], [18.74, 16.64], [17.34, 14.69], [16.35, 12.81]],
           [[22.7, 19.8], [21.77, 18.29], [20.97, 18.16], [18.15, 11.61]],
           [[18.55, 14.86], [17.7, 14.17], [15.96, 12.17], [14.62, 9.85]],
           [[17.374, 16.635], [17.189, 16.739], [17.465, 16.044], [16.506, 14.554]],
           [[19.81, 15.52], [19.57, 14.63], [17.91, 13.15], [15.81, 10.55]],
           [[17.81, 14.48], [17.78, 13.28], [15.68, 11.46], [13.85, 9.8]]]

COLORS = {"B": "#bf00bf", "V": "#bfbf00", "R": "#008000", "J": "#ff0000", "K": "#00bfbf"}
FONT = "DejaVu Sans"
W, H = 1265, 576
COL_PX = [(69.3, 401.0), (497.7, 829.0), (926.3, 1258.0)]
ROW_PX = [[29.0, 83.0, 137.0, 191.3, 245.0], [322.3, 376.0, 430.0, 484.0, 538.0]]
TITLE_Y_PX = [16.5, 309.5]

fig = go.Figure()
layout = {}
annotations = []

for p in range(6):
    prow, pcol = divmod(p, 3)
    x0, x1 = COL_PX[pcol]
    edges = ROW_PX[prow]
    bottom_n = p * 4 + 4
    for r in range(4):
        n = p * 4 + r + 1
        xkey = "xaxis" if n == 1 else f"xaxis{n}"
        ykey = "yaxis" if n == 1 else f"yaxis{n}"
        xref = "x" if n == 1 else f"x{n}"
        yref = "y" if n == 1 else f"y{n}"
        band = BANDS[p][r]
        data = SERIES[p][r]
        xs = [d[0] for d in data]
        ys = [d[1] for d in data]
        errs = [d[2] if len(d) > 2 else 0.0 for d in data]
        color = COLORS[band]
        tr = dict(x=xs, y=ys, mode="markers", xaxis=xref, yaxis=yref,
                  marker=dict(size=3.6, color=color, line=dict(width=0)),
                  showlegend=False, hoverinfo="x+y")
        if any(e > 0 for e in errs):
            tr["error_y"] = dict(type="data", array=errs, visible=True, thickness=1, width=0, color=color)
        fig.add_trace(go.Scatter(**tr))

        is_bottom = (r == 3)
        xax = dict(domain=[x0 / W, x1 / W], anchor=yref, range=XRANGES[p],
                   showgrid=False, zeroline=False, showline=True, mirror=True,
                   linecolor="#000000", linewidth=1, automargin=False,
                   tickfont=dict(family=FONT, size=13, color="#000000"))
        if is_bottom:
            xax.update(tickvals=XTICKS[p], ticktext=[str(v) for v in XTICKS[p]],
                       ticks="outside", ticklen=4, tickwidth=1, tickcolor="#000000",
                       showticklabels=True,
                       title=dict(text="MJD", font=dict(family=FONT, size=12, color="#000000"), standoff=8))
        else:
            xax.update(showticklabels=False, ticks="", matches=f"x{bottom_n}")
        layout[xkey] = xax

        yt = YTICKS[p][r]
        yax = dict(domain=[1 - edges[r + 1] / H, 1 - edges[r] / H], anchor=xref,
                   range=YRANGES[p][r], showgrid=False, zeroline=False, showline=True,
                   mirror=True, linecolor="#000000", linewidth=1, automargin=False,
                   tickvals=[float(t) for t in yt], ticktext=yt,
                   ticks="outside", ticklen=4, tickwidth=1, tickcolor="#000000",
                   tickfont=dict(family=FONT, size=13, color="#000000"),
                   title=dict(text=band, font=dict(family=FONT, size=13, color="#000000"), standoff=4))
        layout[ykey] = yax

    annotations.append(dict(text=TITLES[p], x=(x0 + x1) / 2 / W, y=1 - TITLE_Y_PX[prow] / H,
                            xref="paper", yref="paper", xanchor="center", yanchor="middle",
                            showarrow=False, font=dict(family=FONT, size=17, color="#000000")))

fig.update_layout(width=W, height=H, margin=dict(l=0, r=0, t=0, b=0),
                  paper_bgcolor="white", plot_bgcolor="white", template="none",
                  showlegend=False, annotations=annotations, **layout)
fig.write_html("out.html")
